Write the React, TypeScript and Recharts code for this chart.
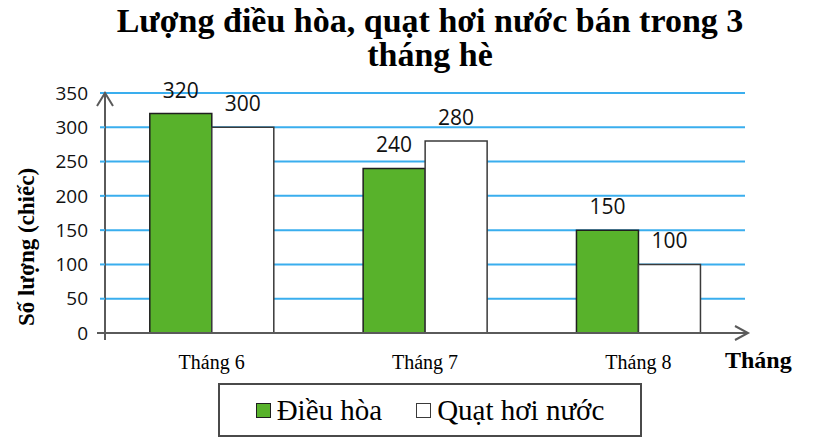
import React from 'react';
import { BarChart, Bar, XAxis, YAxis, CartesianGrid, LabelList } from 'recharts';

const MONTHS = ['Tháng 6', 'Tháng 7', 'Tháng 8'];
const DIEU_HOA = [320, 240, 150];
const QUAT_HOI_NUOC = [300, 280, 100];
const Y_TICKS = [0, 50, 100, 150, 200, 250, 300, 350];

const SERIES = [
  { key: 'dieuHoa', name: 'Điều hòa', fill: '#58B22B', stroke: '#1f1f1f' },
  { key: 'quat', name: 'Quạt hơi nước', fill: '#ffffff', stroke: '#3a3a3a' },
];

const data = MONTHS.map((m, i) => ({ month: m, dieuHoa: DIEU_HOA[i], quat: QUAT_HOI_NUOC[i] }));

const SERIF = '"Liberation Serif", "DejaVu Serif", serif';
const SANS = '"Open Sans", "Liberation Sans", sans-serif';
const AXIS = '#5a5a5a';
const GRID = '#3AAEEE';

export default function App() {
  return (
    <div style={{ position: 'absolute', left: 0, top: 0, width: 814, height: 444, background: '#fff' }}>
      <div style={{
        position: 'absolute', left: 0, top: 4, width: 860, textAlign: 'center',
        fontFamily: SERIF, fontWeight: 700, fontSize: 34, lineHeight: '34px', color: '#000',
      }}>
        Lượng điều hòa, quạt hơi nước bán trong 3<br />tháng hè
      </div>

      <BarChart
        width={814}
        height={444}
        data={data}
        margin={{ top: 93, right: 69, bottom: 71, left: 0 }}
        barCategoryGap="21%"
        barGap={0}
        style={{ position: 'absolute', left: 0, top: 0 }}
      >
        <CartesianGrid horizontal vertical={false} stroke={GRID} strokeWidth={2} />
        <XAxis
          dataKey="month"
          height={40}
          tickLine={false}
          tickMargin={16}
          axisLine={{ stroke: AXIS, strokeWidth: 2 }}
          tick={{ fill: '#000', fontFamily: SERIF, fontSize: 20 }}
        />
        <YAxis
          width={105}
          domain={[0, 350]}
          ticks={Y_TICKS}
          interval={0}
          tickSize={5}
          tickMargin={12}
          tickLine={{ stroke: GRID, strokeWidth: 2 }}
          axisLine={{ stroke: AXIS, strokeWidth: 2 }}
          tick={{ fill: '#111', fontFamily: SANS, fontSize: 19 }}
        />
        {SERIES.map(s => (
          <Bar
            key={s.key}
            dataKey={s.key}
            name={s.name}
            fill={s.fill}
            stroke={s.stroke}
            strokeWidth={1.5}
            isAnimationActive={false}
          >
            <LabelList
              dataKey={s.key}
              position="top"
              offset={16}
              style={{ fill: '#111', fontFamily: SANS, fontSize: 21 }}
            />
          </Bar>
        ))}
      </BarChart>

      {/* axis arrows and titles */}
      <svg width={814} height={444} style={{ position: 'absolute', left: 0, top: 0, pointerEvents: 'none' }}>
        <line x1={105} y1={333} x2={105} y2={340} stroke={AXIS} strokeWidth={2} />
        <line x1={97} y1={333} x2={105} y2={333} stroke={AXIS} strokeWidth={2} />
        <line x1={745} y1={333} x2={748} y2={333} stroke={AXIS} strokeWidth={2} />
        <polyline points="97,106 105,93 113,106" fill="none" stroke={AXIS} strokeWidth={2} />
        <polyline points="735,326 748,333 735,340" fill="none" stroke={AXIS} strokeWidth={2} />
        <text x={725} y={368} fontFamily={SERIF} fontWeight={700} fontSize={24} fill="#000">Tháng</text>
        <text
          x={0}
          y={0}
          transform="translate(34,247) rotate(-90)"
          textAnchor="middle"
          fontFamily={SERIF}
          fontWeight={700}
          fontSize={23}
          fill="#000"
        >
          Số lượng (chiếc)
        </text>
      </svg>

      <div style={{
        position: 'absolute', left: 218, top: 383, width: 424, height: 54, boxSizing: 'border-box',
        border: '2px solid #4a4a4a', display: 'flex', alignItems: 'center', justifyContent: 'center',
        gap: 34, fontFamily: SERIF, fontSize: 29, color: '#000',
      }}>
        {SERIES.map(s => (
          <div key={s.key} style={{ display: 'flex', alignItems: 'center', gap: 6 }}>
            <span style={{
              display: 'inline-block', width: 13, height: 13, background: s.fill,
              border: `1.5px solid ${s.stroke}`,
            }} />
            <span>{s.name}</span>
          </div>
        ))}
      </div>
    </div>
  );
}
